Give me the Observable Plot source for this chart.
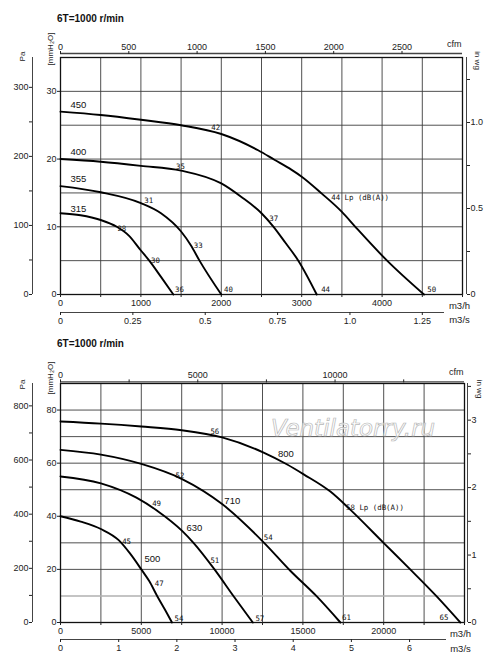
<!DOCTYPE html>
<html><head><meta charset="utf-8">
<script src="https://cdn.jsdelivr.net/npm/d3@7"></script>
<script src="https://cdn.jsdelivr.net/npm/@observablehq/plot@0.6"></script>
<style>
body{margin:0;background:#fff;}
#wrap{position:relative;width:500px;height:666px;overflow:hidden;font-family:"Liberation Sans",Arial,sans-serif;background:#fff;}
.title{position:absolute;left:57px;font-weight:bold;font-size:10px;line-height:12px;color:#111;white-space:nowrap;}
#c1{position:absolute;left:0;top:30px;}
#c2{position:absolute;left:0;top:355px;}
.wm{position:absolute;left:271px;top:414px;font-family:"DejaVu Sans",sans-serif;font-style:italic;font-size:23px;line-height:28px;color:rgba(255,255,255,0.6);-webkit-text-stroke:0.7px #b8b8b8;white-space:nowrap;}
</style></head>
<body><div id="wrap">
<div class="title" style="top:13px">6T=1000 r/min</div>
<div id="c1"></div>
<div class="title" style="top:338px">6T=1000 r/min</div>
<div id="c2"></div>
<div class="wm">Ventilatorry.ru</div>
</div>
<script>
// unit conversions
const CFM = 1.69901;   // m3/h per cfm
const PA = 9.80665;    // Pa per mmH2O
const INWG = 25.4;     // mmH2O per in wg

// ---------- Chart 1 (sizes 315..450) : q in m3/h, p in mmH2O ----------
const sizes1 = ["450", "400", "355", "315"];
const q1_450 = [0, 500, 1000, 1500, 2000, 2458, 2660, 2875, 3000, 3250, 3500, 3667, 4062, 4521];
const p1_450 = [27, 26.5, 25.8, 25, 23.7, 21.3, 19.9, 18.4, 17.4, 14.9, 12.2, 10, 5, 0];
const q1_400 = [0, 500, 1000, 1500, 2000, 2250, 2500, 2650, 2800, 2958, 3187];
const p1_400 = [20, 19.6, 19, 18.3, 16.4, 14.4, 12, 10, 7.6, 5, 0];
const q1_355 = [0, 500, 1000, 1250, 1500, 1625, 1729, 2000];
const p1_355 = [16, 15.1, 13.5, 12, 9.3, 7.2, 5, 0];
const q1_315 = [0, 250, 500, 700, 850, 1000, 1104, 1250, 1404];
const p1_315 = [12, 11.7, 11, 10, 8.7, 6.5, 5, 2.6, 0];
const sizeLabelQ1 = [125, 125, 125, 125];
const sizeLabelP1 = [28, 21.1, 17.0, 12.7];
const noiseText1 = ["42", "35", "31", "28", "30", "36", "33", "40", "37", "44", "44 Lp (dB(A))", "50"];
const noiseQ1 = [1875, 1438, 1042, 708, 1125, 1425, 1658, 2033, 2596, 3242, 3367, 4562];
const noiseP1 = [24.7, 18.9, 13.8, 9.8, 5.0, 0.7, 7.2, 0.7, 11.2, 0.7, 14.3, 0.7];
const xGrid1 = [500, 1000, 1500, 2000, 2500, 3000, 3500, 4000, 4500];
const yGrid1 = [5, 10, 15, 20, 25, 30];
const m3hTicks1 = [0, 500, 1000, 1500, 2000, 2500, 3000, 3500, 4000, 4500, 5000];
const m3hLabels1 = ["0", "", "1000", "", "2000", "", "3000", "", "4000", "", ""];
const m3sTicks1 = [0, 0.25, 0.5, 0.75, 1.0, 1.25];
const m3sLabels1 = ["0", "0.25", "0.5", "0.75", "1.0", "1.25"];
const cfmTicks1 = [0, 500, 1000, 1500, 2000, 2500];
const cfmLabels1 = ["0", "500", "1000", "1500", "2000", "2500"];
const mmTicks1 = [0, 10, 20, 30];
const mmLabels1 = ["0", "10", "20", "30"];
const paTicks1 = [0, 50, 100, 150, 200, 250, 300];
const paLabels1 = ["0", "", "100", "", "200", "", "300"];
const wgTicks1 = [0, 0.25, 0.5, 0.75, 1.0, 1.25];
const wgLabels1 = ["0", "", "0.5", "", "1.0", ""];

// ---------- Chart 2 (sizes 500..800) ----------
const sizes2 = ["800", "710", "630", "500"];
const q2_800 = [0, 2500, 5000, 7500, 10000, 12570, 14000, 15050, 16700, 17930, 19990, 21640, 23250, 24740];
const p2_800 = [75.7, 74.9, 73.8, 72.4, 69.7, 64.0, 59.6, 55.8, 49.3, 42.5, 30, 20, 10, 0];
const q2_710 = [0, 2500, 5000, 7525, 10000, 12570, 14220, 15830, 17320];
const p2_710 = [65, 63.2, 59.7, 54, 44.6, 30.2, 19.5, 10, 0];
const q2_630 = [0, 2500, 4700, 6000, 7525, 8230, 9530, 10700, 11900];
const p2_630 = [55, 52.4, 47, 42, 34.5, 30, 20, 10, 0];
const q2_500 = [0, 1250, 2500, 3600, 4300, 5000, 5500, 5980, 6450, 6900];
const p2_500 = [40, 38, 35.2, 31, 26, 20, 15.5, 10, 5, 0];
const sizeLabelQ2 = [13460, 10140, 7792, 5195];
const sizeLabelP2 = [63.4, 45.9, 35.6, 23.8];
const noiseText2 = ["56", "52", "49", "45", "47", "54", "51", "57", "54", "61", "58 Lp (dB(A))", "65"];
const noiseQ2 = [9276, 7112, 5670, 3814, 5834, 7050, 9276, 12060, 12574, 17420, 17670, 23460];
const noiseP2 = [71.9, 55.3, 44.6, 30.5, 14.8, 1.5, 23.3, 1.6, 32.1, 1.8, 43.3, 1.8];
const xGrid2 = [2500, 5000, 7500, 10000, 12500, 15000, 17500, 20000, 22500];
const yGrid2 = [10, 20, 30, 40, 50, 60, 70, 80];
const yGridLight2 = [10];
const m3hTicks2 = [0, 2500, 5000, 7500, 10000, 12500, 15000, 17500, 20000, 22500, 25000];
const m3hLabels2 = ["0", "", "5000", "", "10000", "", "15000", "", "20000", "", ""];
const m3sTicks2 = [0, 1, 2, 3, 4, 5, 6];
const m3sLabels2 = ["0", "1", "2", "3", "4", "5", "6"];
const cfmTicks2 = [0, 2500, 5000, 7500, 10000, 12500];
const cfmLabels2 = ["0", "", "5000", "", "10000", ""];
const mmTicks2 = [0, 20, 40, 60, 80];
const mmLabels2 = ["0", "20", "40", "60", "80"];
const paTicks2 = [0, 100, 200, 300, 400, 500, 600, 700, 800];
const paLabels2 = ["0", "", "200", "", "400", "", "600", "", "800"];
const wgTicks2 = [0, 0.5, 1, 1.5, 2, 2.5, 3, 3.5];
const wgLabels2 = ["0", "", "1", "", "2", "", "3", ""];

function rows(sizes, qs, ps) {
  return sizes.flatMap((s, k) => qs[k].map((q, i) => ({size: s, q, p: ps[k][i]})));
}
function labelRows(texts, qs, ps) {
  return texts.map((t, i) => ({t, q: qs[i], p: ps[i]}));
}
function fmtMap(vals, labels) {
  const m = new Map(vals.map((v, i) => [v, labels[i]]));
  return d => m.get(d) ?? "";
}

function chart(c) {
  const cfmVals = c.cfmTicks.map(v => v * CFM);
  const m3sVals = c.m3sTicks.map(v => v * 3600);
  const paVals = c.paTicks.map(v => v / PA);
  const wgVals = c.wgTicks.map(v => v * INWG);
  const axisStyle = {tickSize: 3, tickPadding: 2, label: null, fontSize: 9, stroke: "#222"};
  const unit = {textAnchor: "middle", lineAnchor: "middle", fill: "#222"};
  return Plot.plot({
    width: 500, height: c.height,
    marginLeft: 60, marginRight: c.mr, marginTop: c.mt, marginBottom: c.mb,
    style: {fontFamily: "'Liberation Sans', Arial, sans-serif", fontSize: "9px", color: "#222", background: "transparent", overflow: "visible"},
    x: {domain: [0, c.xMax], label: null},
    y: {domain: [0, c.yMax], label: null},
    marks: [
      Plot.ruleX(c.xGrid, {stroke: "#3c3c3c", strokeWidth: 0.9}),
      Plot.ruleY(c.yGrid, {stroke: "#3c3c3c", strokeWidth: 0.9}),
      Plot.ruleY(c.yGridLight, {stroke: "#b0b0b0", strokeWidth: 1.6}),
      Plot.frame({stroke: "#111", strokeWidth: 1.3}),
      // bottom m3/h axis
      Plot.axisX(c.m3hTicks, {...axisStyle, anchor: "bottom", tickFormat: fmtMap(c.m3hTicks, c.m3hLabels)}),
      Plot.text(["m3/h"], {...unit, frameAnchor: "bottom-right", dx: c.unitDx, dy: c.m3hDy, fontSize: 9.5}),
      // m3/s axis
      Plot.ruleY([0], {dy: c.m3sOffset, insetRight: 18, stroke: "#444", strokeWidth: 1.2}),
      Plot.axisX(m3sVals, {...axisStyle, anchor: "bottom", dy: c.m3sOffset, tickFormat: fmtMap(m3sVals, c.m3sLabels)}),
      Plot.text(["m3/s"], {...unit, frameAnchor: "bottom-right", dx: c.unitDx, dy: c.m3sDy, fontSize: 9.5}),
      // top cfm axis
      Plot.ruleY([c.yMax], {dy: -c.cfmOffset, stroke: "#444", strokeWidth: 1.4}),
      Plot.axisX(cfmVals, {...axisStyle, anchor: "top", dy: -c.cfmOffset, tickPadding: 1, tickFormat: fmtMap(cfmVals, c.cfmLabels)}),
      Plot.text(["cfm"], {...unit, textAnchor: "end", frameAnchor: "top-right", dx: -1, dy: c.cfmDy, fontSize: 9}),
      // mmH2O axis
      Plot.axisY(c.mmTicks, {...axisStyle, anchor: "left", tickPadding: 1, tickFormat: fmtMap(c.mmTicks, c.mmLabels)}),
      Plot.text(["[mmH\u2082O]"], {...unit, frameAnchor: "top-left", dx: -10.5, dy: c.mmDy, rotate: -90, fontSize: 8}),
      // Pa axis
      Plot.ruleX([0], {dx: -28, stroke: "#444", strokeWidth: 1}),
      Plot.axisY(paVals, {...axisStyle, anchor: "left", dx: -28, tickPadding: 1, tickFormat: fmtMap(paVals, c.paLabels)}),
      Plot.text(["Pa"], {...unit, frameAnchor: "top-left", dx: -38, dy: c.paDy, rotate: -90, fontSize: 8}),
      // in wg axis
      Plot.ruleX([c.xMax], {dx: c.wgOffset, stroke: "#444", strokeWidth: 1}),
      Plot.axisY(wgVals, {...axisStyle, anchor: "right", dx: c.wgOffset, tickPadding: 1, tickFormat: fmtMap(wgVals, c.wgLabels)}),
      Plot.text(["in wg"], {...unit, frameAnchor: "top-right", dx: 15, dy: c.wgDy, rotate: 90, fontSize: 8}),
      // curves
      Plot.line(c.curves, {x: "q", y: "p", z: "size", curve: "monotone-x", stroke: "#000", strokeWidth: 1.9}),
      Plot.text(c.sizeLabels, {x: "q", y: "p", text: "t", textAnchor: "start", fontSize: 9.5, fill: "#111"}),
      Plot.text(c.noiseLabels, {x: "q", y: "p", text: "t", textAnchor: "start", fontSize: 7.4, fontFamily: "'DejaVu Sans Mono', monospace", fill: "#111"})
    ]
  });
}

const chart1 = chart({
  height: 300, mr: 38, mt: 27, mb: 36, xMax: 5000, yMax: 35,
  xGrid: xGrid1, yGrid: yGrid1, yGridLight: [],
  m3hTicks: m3hTicks1, m3hLabels: m3hLabels1,
  m3sTicks: m3sTicks1, m3sLabels: m3sLabels1,
  cfmTicks: cfmTicks1, cfmLabels: cfmLabels1,
  mmTicks: mmTicks1, mmLabels: mmLabels1,
  paTicks: paTicks1, paLabels: paLabels1,
  wgTicks: wgTicks1, wgLabels: wgLabels1,
  cfmOffset: 4, m3sOffset: 18, wgOffset: 4,
  unitDx: -3, m3hDy: 11, m3sDy: 25.8, cfmDy: -13.7, mmDy: -8.5, paDy: -1, wgDy: 3,
  curves: rows(sizes1, [q1_450, q1_400, q1_355, q1_315], [p1_450, p1_400, p1_355, p1_315]),
  sizeLabels: labelRows(sizes1, sizeLabelQ1, sizeLabelP1),
  noiseLabels: labelRows(noiseText1, noiseQ1, noiseP1)
});
const chart2 = chart({
  height: 311, mr: 36, mt: 28, mb: 44, xMax: 25000, yMax: 90,
  xGrid: xGrid2, yGrid: yGrid2.filter(v => !yGridLight2.includes(v)), yGridLight: yGridLight2,
  m3hTicks: m3hTicks2, m3hLabels: m3hLabels2,
  m3sTicks: m3sTicks2, m3sLabels: m3sLabels2,
  cfmTicks: cfmTicks2, cfmLabels: cfmLabels2,
  mmTicks: mmTicks2, mmLabels: mmLabels2,
  paTicks: paTicks2, paLabels: paLabels2,
  wgTicks: wgTicks2, wgLabels: wgLabels2,
  cfmOffset: 1.6, m3sOffset: 17, wgOffset: 3,
  unitDx: -4, m3hDy: 11, m3sDy: 26, cfmDy: -11.3, mmDy: -5.5, paDy: 1, wgDy: 5.5,
  curves: rows(sizes2, [q2_800, q2_710, q2_630, q2_500], [p2_800, p2_710, p2_630, p2_500]),
  sizeLabels: labelRows(sizes2, sizeLabelQ2, sizeLabelP2),
  noiseLabels: labelRows(noiseText2, noiseQ2, noiseP2)
});
document.getElementById("c1").appendChild(chart1);
document.getElementById("c2").appendChild(chart2);
</script>
</body></html>
